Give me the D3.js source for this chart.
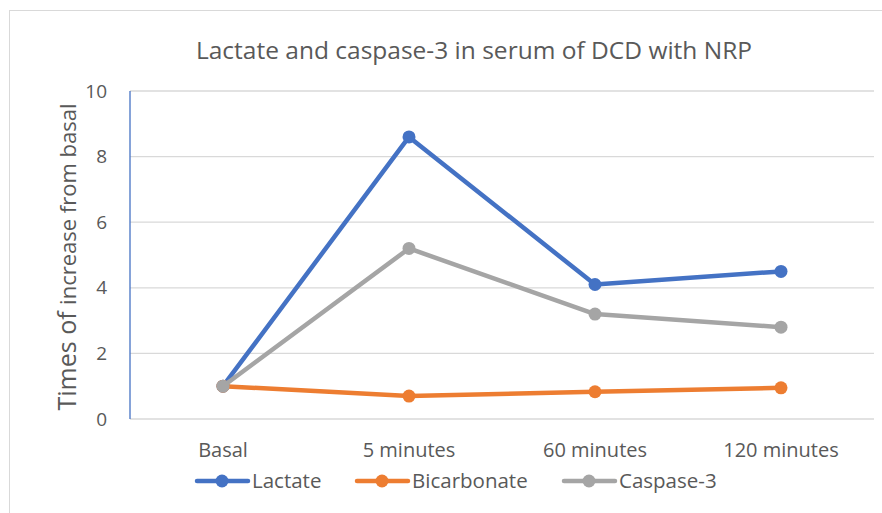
<!DOCTYPE html>
<html>
<head>
<meta charset="utf-8">
<script src="https://cdn.jsdelivr.net/npm/d3@7"></script>
<style>
  body { margin: 0; background: #fff; }
  text { font-family: 'Open Sans', 'Noto Sans', sans-serif; fill: #595959; }
</style>
</head>
<body>
<svg id="chart" width="882" height="513"></svg>
<script>
// chart data
const categories = ['Basal', '5 minutes', '60 minutes', '120 minutes'];
const lactate = [1, 8.6, 4.1, 4.5];
const bicarbonate = [1, 0.7, 0.83, 0.95];
const caspase3 = [1, 5.2, 3.2, 2.8];
const yTicks = [0, 2, 4, 6, 8, 10];

const series = [
  { name: 'Lactate', values: lactate, color: '#4472c4' },
  { name: 'Bicarbonate', values: bicarbonate, color: '#ed7d31' },
  { name: 'Caspase-3', values: caspase3, color: '#a5a5a5' },
];

const svg = d3.select('#chart');
const margin = { left: 130, right: 8, top: 91, bottom: 94 };
const height = 513;
const plotRight = margin.left + 4 * 186;

// outer chart border
svg.append('rect')
  .attr('x', 9.5).attr('y', 10.5)
  .attr('width', 880).attr('height', 520)
  .attr('fill', 'none')
  .attr('stroke', '#d9d9d9');

const x = d3.scaleBand()
  .domain(categories)
  .range([margin.left, plotRight])
  .padding(0);

const y = d3.scaleLinear()
  .domain([0, 10])
  .range([height - margin.bottom, margin.top]);

// gridlines
svg.append('g')
  .selectAll('line')
  .data(yTicks)
  .enter()
  .append('line')
  .attr('x1', margin.left)
  .attr('x2', plotRight)
  .attr('y1', (d) => y(d))
  .attr('y2', (d) => y(d))
  .attr('stroke', '#d9d9d9')
  .attr('stroke-width', 1.3);

// y axis line
svg.append('line')
  .attr('x1', margin.left).attr('x2', margin.left)
  .attr('y1', y(0)).attr('y2', y(10))
  .attr('stroke', '#4472c4')
  .attr('stroke-width', 1.3);

// y tick labels
svg.append('g')
  .selectAll('text')
  .data(yTicks)
  .enter()
  .append('text')
  .attr('x', 107)
  .attr('y', (d) => y(d))
  .attr('dy', '0.35em')
  .attr('text-anchor', 'end')
  .style('font-size', '19px')
  .text((d) => d);

// x labels
svg.append('g')
  .selectAll('text')
  .data(categories)
  .enter()
  .append('text')
  .attr('x', (d) => x(d) + x.bandwidth() / 2)
  .attr('y', 457)
  .attr('text-anchor', 'middle')
  .style('font-size', '20px')
  .text((d) => d);

// title
svg.append('text')
  .attr('x', 474)
  .attr('y', 59)
  .attr('text-anchor', 'middle')
  .style('font-size', '24.5px')
  .text('Lactate and caspase-3 in serum of DCD with NRP');

// y axis title
const yTitle = svg.append('text')
  .attr('transform', `translate(76, ${y(5) + 2}) rotate(-90)`)
  .attr('text-anchor', 'middle');
yTitle.append('tspan').style('font-size', '25px').text('Times of ');
yTitle.append('tspan').style('font-size', '22px').text('increase from basal');

// lines + markers
const line = d3.line()
  .x((d, i) => x(categories[i]) + x.bandwidth() / 2)
  .y((d) => y(d));

const groups = svg.append('g')
  .selectAll('g')
  .data(series)
  .enter()
  .append('g');

groups.append('path')
  .attr('d', (d) => line(d.values))
  .attr('fill', 'none')
  .attr('stroke', (d) => d.color)
  .attr('stroke-width', 4.5)
  .attr('stroke-linejoin', 'round');

groups.selectAll('circle')
  .data((d) => d.values.map((v) => ({ v, color: d.color })))
  .enter()
  .append('circle')
  .attr('cx', (d, i) => x(categories[i]) + x.bandwidth() / 2)
  .attr('cy', (d) => y(d.v))
  .attr('r', 6.5)
  .attr('fill', (d) => d.color);

// legend
const legendX = [195, 355, 562];
const legend = svg.append('g')
  .selectAll('g')
  .data(series)
  .enter()
  .append('g')
  .attr('transform', (d, i) => `translate(${legendX[i]}, 481)`);

legend.append('line')
  .attr('x1', 2).attr('x2', 53)
  .attr('stroke', (d) => d.color)
  .attr('stroke-width', 4.5)
  .attr('stroke-linecap', 'round');

legend.append('circle')
  .attr('cx', 27)
  .attr('r', 6.5)
  .attr('fill', (d) => d.color);

legend.append('text')
  .attr('x', 57)
  .attr('dy', '0.35em')
  .style('font-size', '20.5px')
  .text((d) => d.name);
</script>
</body>
</html>
